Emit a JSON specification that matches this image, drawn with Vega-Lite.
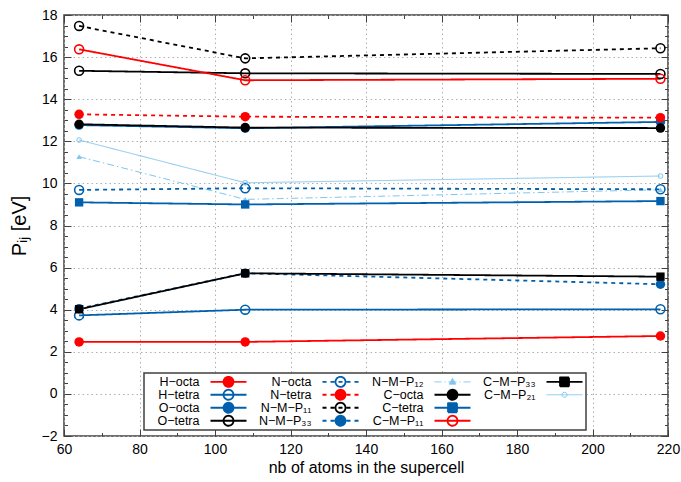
{
  "$schema": "https://vega.github.io/schema/vega-lite/v6.json",
  "width": 604,
  "height": 421,
  "autosize": {"type": "none"},
  "padding": {"left": 64, "top": 15, "right": 13, "bottom": 46},
  "background": "white",
  "config": {"font": "Liberation Sans", "view": {"stroke": "#404040", "strokeWidth": 1.5}},
  "data": {"values": [
    {"s": "H−octa", "n": 64, "p": 2.47}, {"s": "H−octa", "n": 108, "p": 2.47}, {"s": "H−octa", "n": 218, "p": 2.75},
    {"s": "H−tetra", "n": 64, "p": 3.73}, {"s": "H−tetra", "n": 108, "p": 4.0}, {"s": "H−tetra", "n": 218, "p": 4.02},
    {"s": "O−octa", "n": 64, "p": 12.77}, {"s": "O−octa", "n": 108, "p": 12.62}, {"s": "O−octa", "n": 218, "p": 12.92},
    {"s": "O−tetra", "n": 64, "p": 15.35}, {"s": "O−tetra", "n": 108, "p": 15.23}, {"s": "O−tetra", "n": 218, "p": 15.2},
    {"s": "N−octa", "n": 64, "p": 9.69}, {"s": "N−octa", "n": 108, "p": 9.77}, {"s": "N−octa", "n": 218, "p": 9.72},
    {"s": "N−tetra", "n": 64, "p": 13.28}, {"s": "N−tetra", "n": 108, "p": 13.17}, {"s": "N−tetra", "n": 218, "p": 13.12},
    {"s": "N−M−P₁₁", "n": 64, "p": 17.48}, {"s": "N−M−P₁₁", "n": 108, "p": 15.94}, {"s": "N−M−P₁₁", "n": 218, "p": 16.42},
    {"s": "N−M−P₃₃", "n": 64, "p": 4.05}, {"s": "N−M−P₃₃", "n": 108, "p": 5.73}, {"s": "N−M−P₃₃", "n": 218, "p": 5.21},
    {"s": "N−M−P₁₂", "n": 64, "p": 11.27}, {"s": "N−M−P₁₂", "n": 108, "p": 9.24}, {"s": "N−M−P₁₂", "n": 218, "p": 9.7},
    {"s": "C−octa", "n": 64, "p": 12.81}, {"s": "C−octa", "n": 108, "p": 12.65}, {"s": "C−octa", "n": 218, "p": 12.63},
    {"s": "C−tetra", "n": 64, "p": 9.1}, {"s": "C−tetra", "n": 108, "p": 9.0}, {"s": "C−tetra", "n": 218, "p": 9.16},
    {"s": "C−M−P₁₁", "n": 64, "p": 16.37}, {"s": "C−M−P₁₁", "n": 108, "p": 14.9}, {"s": "C−M−P₁₁", "n": 218, "p": 14.97},
    {"s": "C−M−P₃₃", "n": 64, "p": 4.02}, {"s": "C−M−P₃₃", "n": 108, "p": 5.73}, {"s": "C−M−P₃₃", "n": 218, "p": 5.57},
    {"s": "C−M−P₂₁", "n": 64, "p": 12.06}, {"s": "C−M−P₂₁", "n": 108, "p": 10.03}, {"s": "C−M−P₂₁", "n": 218, "p": 10.35}
  ]},
  "resolve": {"axis": {"x": "independent", "y": "independent"}},
  "layer": [
    {
      "transform": [{"filter": {"field": "s", "oneOf": ["N−M−P₁₂", "C−M−P₂₁"]}}],
      "mark": {"type": "line", "strokeWidth": 1},
      "encoding": {
        "x": {"field": "n", "type": "quantitative", "scale": {"domain": [60, 220], "nice": false, "zero": false},
          "axis": {"orient": "bottom", "values": [60, 80, 100, 120, 140, 160, 180, 200, 220], "title": "nb of atoms in the supercell",
            "titleFontSize": 16, "titleFontWeight": "normal", "titleColor": "#000000", "titleBaseline": "alphabetic", "titleY": 36,
            "labelFontSize": 14, "labelColor": "#000000", "labelPadding": 13, "labelFlush": false, "labelOverlap": false,
            "ticks": true, "tickSize": -7, "tickColor": "#404040", "tickWidth": 1, "domain": false,
            "grid": true, "gridColor": "#b0b0b0", "gridDash": [1.5, 3], "gridWidth": 1}},
        "y": {"field": "p", "type": "quantitative", "scale": {"domain": [-2, 18], "nice": false, "zero": false},
          "axis": {"orient": "left", "values": [-2, 0, 2, 4, 6, 8, 10, 12, 14, 16, 18], "title": "Pᵢⱼ [eV]",
            "titleFontSize": 20, "titleFontWeight": "normal", "titleColor": "#000000", "titleBaseline": "alphabetic", "titleX": -39,
            "labelFontSize": 14, "labelColor": "#000000", "labelPadding": 14, "labelFlush": false, "labelOverlap": false,
            "ticks": true, "tickSize": -7, "tickColor": "#404040", "tickWidth": 1, "domain": false,
            "grid": true, "gridColor": "#b0b0b0", "gridDash": [1.5, 3], "gridWidth": 1}},
        "color": {"field": "s", "type": "nominal",
          "scale": {"domain": ["H−octa", "H−tetra", "O−octa", "O−tetra", "N−octa", "N−tetra", "N−M−P₁₁", "N−M−P₃₃", "N−M−P₁₂", "C−octa", "C−tetra", "C−M−P₁₁", "C−M−P₃₃", "C−M−P₂₁", "zz1", "zz2"],
            "range": ["#ff0000", "#0060ad", "#0060ad", "#000000", "#0060ad", "#ff0000", "#000000", "#0060ad", "#80c6ee", "#000000", "#0060ad", "#ff0000", "#000000", "#80c6ee", "transparent", "transparent"]},
          "legend": {"orient": "none", "legendX": 80, "legendY": 358, "title": null, "columns": 4,
            "symbolOffset": 0, "labelOffset": 0, "labelAlign": "right", "labelFontSize": 12.5, "labelColor": "#000000", "labelLimit": 200,
            "labelExpr": "datum.index >= 14 ? '' : datum.label",
            "rowPadding": 0, "columnPadding": 10, "padding": 2.5, "fillColor": "white", "strokeColor": "#404040", "symbolLimit": 30,
            "encode": {
              "legend": {"update": {"strokeWidth": {"value": 1.5}}},
              "labels": {"update": {"x": {"value": 53}, "align": {"value": "right"}}},
              "symbols": {"update": {
                "x": {"value": 0},
                "shape": {"signal": "datum.index >= 14 ? 'M0,0M20,0' : 'M0,0' + (datum.index >= 4 && datum.index <= 7 ? 'M12.8,0H13.6M14.4,0H15.2M16,0H16.8M17.6,0H18.4M19.2,0H20' : datum.index == 8 ? 'M12.8,0H14.2M14.8,0H15M15.6,0H17.2M17.8,0H18M18.6,0H20' : 'M12.8,0H20') + (datum.index == 8 ? 'M16.4,-0.7L17.05,0.45H15.75Z' : (datum.index == 10 || datum.index == 12) ? 'M15.5,-0.9H17.3V0.9H15.5Z' : datum.index == 13 ? 'M16.9,0A0.5,0.5,0,1,1,15.9,0A0.5,0.5,0,1,1,16.9,0' : 'M17.4,0A1,1,0,1,1,15.4,0A1,1,0,1,1,17.4,0')"},
                "size": {"value": 100},
                "fill": {"signal": "['#ff0000','transparent','#0060ad','transparent','transparent','#ff0000','transparent','#0060ad','#80c6ee','#000000','#0060ad','transparent','#000000','transparent','transparent','transparent'][datum.index]"},
                "fillOpacity": {"signal": "indexof([1, 3, 4, 6, 11, 13, 14, 15], datum.index) >= 0 ? 0 : 1"},
                "stroke": {"signal": "['#ff0000','#0060ad','#0060ad','#000000','#0060ad','#ff0000','#000000','#0060ad','#80c6ee','#000000','#0060ad','#ff0000','#000000','#80c6ee','transparent','transparent'][datum.index]"},
                "strokeWidth": {"signal": "(datum.index == 8 || datum.index == 13) ? 1 : 1.8"},
                "strokeJoin": {"value": "round"},
                "strokeDash": {"value": [1, 0]},
                "opacity": {"value": 1}
              }}
            }}},
        "strokeDash": {"field": "s", "type": "nominal",
          "scale": {"domain": ["H−octa", "H−tetra", "O−octa", "O−tetra", "N−octa", "N−tetra", "N−M−P₁₁", "N−M−P₃₃", "N−M−P₁₂", "C−octa", "C−tetra", "C−M−P₁₁", "C−M−P₃₃", "C−M−P₂₁"],
            "range": [[1, 0], [1, 0], [1, 0], [1, 0], [4, 4], [4, 4], [4, 4], [4, 4], [7, 3, 1.5, 3], [1, 0], [1, 0], [1, 0], [1, 0], [1, 0]]},
          "legend": null}
      }
    },
    {
      "transform": [{"filter": {"field": "s", "oneOf": ["H−octa", "H−tetra", "O−octa", "O−tetra", "N−octa", "N−tetra", "N−M−P₁₁", "N−M−P₃₃", "C−octa", "C−tetra", "C−M−P₁₁", "C−M−P₃₃"]}}],
      "mark": {"type": "line", "strokeWidth": 1.8},
      "encoding": {
        "x": {"field": "n", "type": "quantitative", "scale": {"domain": [60, 220], "nice": false, "zero": false},
          "axis": {"orient": "top", "values": [60, 80, 100, 120, 140, 160, 180, 200, 220], "title": null, "labels": false,
            "ticks": true, "tickSize": -7, "tickColor": "#404040", "tickWidth": 1, "domain": false, "grid": false}},
        "y": {"field": "p", "type": "quantitative", "scale": {"domain": [-2, 18], "nice": false, "zero": false},
          "axis": {"orient": "right", "values": [-2, 0, 2, 4, 6, 8, 10, 12, 14, 16, 18], "title": null, "labels": false,
            "ticks": true, "tickSize": -7, "tickColor": "#404040", "tickWidth": 1, "domain": false, "grid": false}},
        "color": {"field": "s", "type": "nominal"},
        "strokeDash": {"field": "s", "type": "nominal", "legend": null,
          "scale": {"domain": ["H−octa", "H−tetra", "O−octa", "O−tetra", "N−octa", "N−tetra", "N−M−P₁₁", "N−M−P₃₃", "N−M−P₁₂", "C−octa", "C−tetra", "C−M−P₁₁", "C−M−P₃₃", "C−M−P₂₁"],
            "range": [[1, 0], [1, 0], [1, 0], [1, 0], [4, 4], [4, 4], [4, 4], [4, 4], [7, 3, 1.5, 3], [1, 0], [1, 0], [1, 0], [1, 0], [1, 0]]}}
      }
    },
    {
      "transform": [{"filter": {"field": "s", "oneOf": ["H−tetra", "O−tetra", "N−octa", "N−M−P₁₁", "C−M−P₁₁", "C−M−P₂₁"]}}],
      "mark": {"type": "point", "filled": false, "opacity": 1},
      "encoding": {
        "x": {"field": "n", "type": "quantitative", "scale": {"domain": [60, 220], "nice": false, "zero": false},
          "axis": {"orient": "bottom", "values": [60, 70, 80, 90, 100, 110, 120, 130, 140, 150, 160, 170, 180, 190, 200, 210, 220], "title": null, "labels": false,
            "ticks": true, "tickSize": -3.5, "tickColor": "#404040", "tickWidth": 1, "domain": false, "grid": false}},
        "y": {"field": "p", "type": "quantitative", "scale": {"domain": [-2, 18], "nice": false, "zero": false},
          "axis": {"orient": "left", "values": [-2, -1.5, -1, -0.5, 0, 0.5, 1, 1.5, 2, 2.5, 3, 3.5, 4, 4.5, 5, 5.5, 6, 6.5, 7, 7.5, 8, 8.5, 9, 9.5, 10, 10.5, 11, 11.5, 12, 12.5, 13, 13.5, 14, 14.5, 15, 15.5, 16, 16.5, 17, 17.5, 18], "title": null, "labels": false,
            "ticks": true, "tickSize": -3.5, "tickColor": "#404040", "tickWidth": 1, "domain": false, "grid": false}},
        "color": {"field": "s", "type": "nominal"},
        "size": {"field": "s", "type": "nominal", "legend": null,
          "scale": {"type": "ordinal", "domain": ["H−octa", "H−tetra", "O−octa", "O−tetra", "N−octa", "N−tetra", "N−M−P₁₁", "N−M−P₃₃", "N−M−P₁₂", "C−octa", "C−tetra", "C−M−P₁₁", "C−M−P₃₃", "C−M−P₂₁"],
            "range": [90, 80, 90, 80, 80, 90, 80, 90, 30, 90, 70, 80, 70, 22]}},
        "strokeWidth": {"field": "s", "type": "nominal", "legend": null,
          "scale": {"type": "ordinal", "domain": ["H−octa", "H−tetra", "O−octa", "O−tetra", "N−octa", "N−tetra", "N−M−P₁₁", "N−M−P₃₃", "N−M−P₁₂", "C−octa", "C−tetra", "C−M−P₁₁", "C−M−P₃₃", "C−M−P₂₁"],
            "range": [1.6, 1.6, 1.6, 1.6, 1.6, 1.6, 1.6, 1.6, 1, 1.6, 1.6, 1.6, 1.6, 1]}}
      }
    },
    {
      "transform": [{"filter": {"field": "s", "oneOf": ["H−octa", "O−octa", "N−tetra", "N−M−P₃₃", "N−M−P₁₂", "C−octa", "C−tetra", "C−M−P₃₃"]}}],
      "mark": {"type": "point", "filled": true, "opacity": 1},
      "encoding": {
        "x": {"field": "n", "type": "quantitative", "scale": {"domain": [60, 220], "nice": false, "zero": false},
          "axis": {"orient": "top", "values": [60, 70, 80, 90, 100, 110, 120, 130, 140, 150, 160, 170, 180, 190, 200, 210, 220], "title": null, "labels": false,
            "ticks": true, "tickSize": -3.5, "tickColor": "#404040", "tickWidth": 1, "domain": false, "grid": false}},
        "y": {"field": "p", "type": "quantitative", "scale": {"domain": [-2, 18], "nice": false, "zero": false},
          "axis": {"orient": "right", "values": [-2, -1.5, -1, -0.5, 0, 0.5, 1, 1.5, 2, 2.5, 3, 3.5, 4, 4.5, 5, 5.5, 6, 6.5, 7, 7.5, 8, 8.5, 9, 9.5, 10, 10.5, 11, 11.5, 12, 12.5, 13, 13.5, 14, 14.5, 15, 15.5, 16, 16.5, 17, 17.5, 18], "title": null, "labels": false,
            "ticks": true, "tickSize": -3.5, "tickColor": "#404040", "tickWidth": 1, "domain": false, "grid": false}},
        "color": {"field": "s", "type": "nominal"},
        "size": {"field": "s", "type": "nominal", "legend": null,
          "scale": {"type": "ordinal", "domain": ["H−octa", "H−tetra", "O−octa", "O−tetra", "N−octa", "N−tetra", "N−M−P₁₁", "N−M−P₃₃", "N−M−P₁₂", "C−octa", "C−tetra", "C−M−P₁₁", "C−M−P₃₃", "C−M−P₂₁"],
            "range": [90, 80, 90, 80, 80, 90, 80, 90, 30, 90, 70, 80, 70, 22]}},
        "shape": {"field": "s", "type": "nominal", "legend": null,
          "scale": {"domain": ["H−octa", "H−tetra", "O−octa", "O−tetra", "N−octa", "N−tetra", "N−M−P₁₁", "N−M−P₃₃", "N−M−P₁₂", "C−octa", "C−tetra", "C−M−P₁₁", "C−M−P₃₃", "C−M−P₂₁"],
            "range": ["circle", "circle", "circle", "circle", "circle", "circle", "circle", "circle", "triangle-up", "circle", "square", "circle", "square", "circle"]}}
      }
    }
  ]
}
